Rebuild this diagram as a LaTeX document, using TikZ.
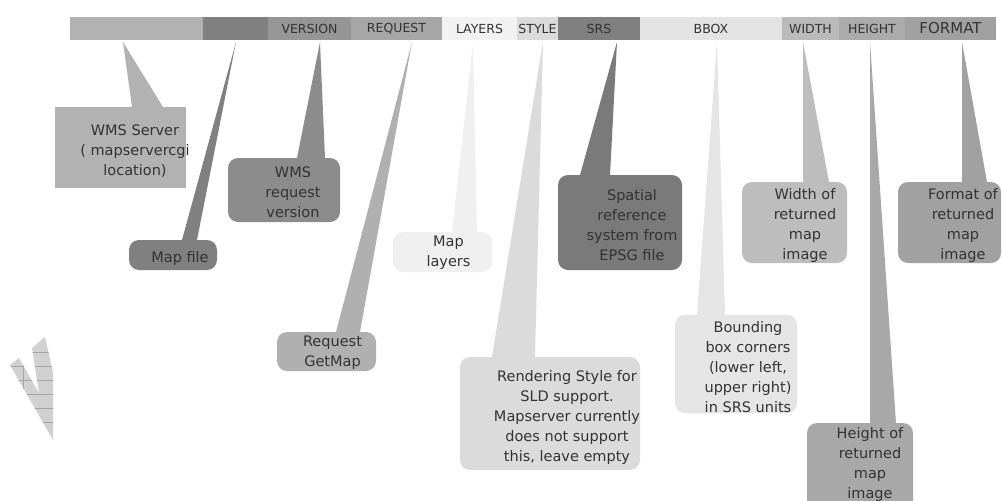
\documentclass[tikz,border=0pt]{standalone}
\usepackage{fontspec}
\setmainfont{DejaVu Sans}
\usetikzlibrary{positioning}

\begin{document}
\begin{tikzpicture}[x=1pt, y=-1pt, node distance=0pt,
		seg/.style={fill=#1, inner sep=0pt, outer xsep=0pt, outer ysep=2pt, minimum height=23pt, text=black!80, font=\fontsize{12.5}{14}\selectfont},
		note/.style={fill=#1, rounded corners=10pt, inner sep=0pt, outer sep=0pt},
		txt/.style={align=center, inner sep=0pt, text=black!80, font=\fontsize{14.5}{20}\selectfont}]
		\useasboundingbox (0,0) rectangle (1002,501);
	
		% the request line
		\node[seg=black!30, minimum width=133pt, anchor=west] (hostSeg) at (70,28.5) {};
		\node[seg=black!50, minimum width=65pt, right = of hostSeg] (mapSeg) {};
		\node[seg=black!41, minimum width=83pt, right = of mapSeg] (versionSeg) {VERSION};
		\node[seg=black!35, minimum width=91pt, right = of versionSeg] (requestSeg) {REQUEST};
		\node[seg=black!5, minimum width=75pt, right = of requestSeg] (layersSeg) {LAYERS};
		\node[seg=black!14, minimum width=41pt, right = of layersSeg] (styleSeg) {STYLE};
		\node[seg=black!50, minimum width=82pt, right = of styleSeg] (srsSeg) {SRS};
		\node[seg=black!11, minimum width=142pt, right = of srsSeg] (bboxSeg) {BBOX};
		\node[seg=black!27, minimum width=57pt, right = of bboxSeg] (widthSeg) {WIDTH};
		\node[seg=black!33, minimum width=66pt, right = of widthSeg] (heightSeg) {HEIGHT};
		\node[seg=black!37, minimum width=91pt, right = of heightSeg, font=\fontsize{15}{17}\selectfont] (formatSeg) {FORMAT};
		
		% the notes
		\node[note=black!30, rounded corners=0pt, minimum width=131pt, minimum height=81pt,
			label={[txt, xshift=14.5pt, yshift=-4pt]center:{WMS Server\\( mapservercgi\\location)}}] (hostNote) at (120.5,147.5) {};
		\node[note=black!50, minimum width=88pt, minimum height=30pt,
			label={[txt, xshift=7pt, yshift=-3pt]center:{Map file}}] (mapNote) at (173,255) {};
		\node[note=black!45, minimum width=112pt, minimum height=64pt,
			label={[txt, xshift=9pt, yshift=-2pt]center:{WMS\\request\\version}}] (versionNote) at (284,190) {};
		\node[note=black!31, minimum width=99pt, minimum height=39pt,
			label={[txt, xshift=6pt, yshift=-1pt]center:{Request\\GetMap}}] (requestNote) at (326.5,351.5) {};
		\node[note=black!6, minimum width=99pt, minimum height=40pt,
			label={[txt, xshift=6pt, yshift=-1pt]center:{Map\\layers}}] (layersNote) at (442.5,252) {};
		\node[note=black!14, minimum width=180pt, minimum height=113pt,
			label={[txt, xshift=17pt, yshift=-3.5pt]center:{Rendering Style for\\SLD support.\\Mapserver currently\\does not support\\this, leave empty}}] (styleNote) at (550,413.5) {};
		\node[note=black!52, minimum width=124pt, minimum height=95pt,
			label={[txt, xshift=12pt, yshift=-3pt]center:{Spatial\\reference\\system from\\EPSG file}}] (srsNote) at (620,222.5) {};
		\node[note=black!10, minimum width=122pt, minimum height=98pt,
			label={[txt, xshift=12pt, yshift=-3pt]center:{Bounding\\box corners\\(lower left,\\upper right)\\in SRS units}}] (bboxNote) at (736,364) {};
		\node[note=black!26, minimum width=105pt, minimum height=81pt,
			label={[txt, xshift=10.5pt, yshift=-3pt]center:{Width of\\returned\\map\\image}}] (widthNote) at (794.5,222.5) {};
		\node[note=black!34, minimum width=106pt, minimum height=97pt,
			label={[txt, xshift=10pt, yshift=7pt]center:{Height of\\returned\\map\\image}}] (heightNote) at (860,471.5) {};
		\node[note=black!37, minimum width=103pt, minimum height=81pt,
			label={[txt, xshift=13.5pt, yshift=-3pt]center:{Format of\\returned\\map\\image}}] (formatNote) at (949.5,222.5) {};
		
		% the pointers
		\fill[black!30] (123,0 |- hostSeg.south) -- (132,0 |- hostNote.north) -- (163,0 |- hostNote.north) -- cycle;
		\fill[black!50] (236,0 |- mapSeg.south) -- (182,0 |- mapNote.north) -- (197,0 |- mapNote.north) -- cycle;
		\fill[black!45] (320,0 |- versionSeg.south) -- (297,0 |- versionNote.north) -- (325,0 |- versionNote.north) -- cycle;
		\fill[black!31] (412,0 |- requestSeg.south) -- (336,0 |- requestNote.north) -- (360,0 |- requestNote.north) -- cycle;
		\fill[black!6] (473,0 |- layersSeg.south) -- (452,0 |- layersNote.north) -- (477,0 |- layersNote.north) -- cycle;
		\fill[black!14] (543,0 |- styleSeg.south) -- (492,0 |- styleNote.north) -- (535,0 |- styleNote.north) -- cycle;
		\fill[black!52] (617,0 |- srsSeg.south) -- (580,0 |- srsNote.north) -- (610,0 |- srsNote.north) -- cycle;
		\fill[black!10] (717,0 |- bboxSeg.south) -- (697,0 |- bboxNote.north) -- (725,0 |- bboxNote.north) -- cycle;
		\fill[black!26] (803,0 |- widthSeg.south) -- (803,0 |- widthNote.north) -- (829,0 |- widthNote.north) -- cycle;
		\fill[black!34] (870,0 |- heightSeg.south) -- (870,0 |- heightNote.north) -- (896,0 |- heightNote.north) -- cycle;
		\fill[black!37] (962,0 |- formatSeg.south) -- (962,0 |- formatNote.north) -- (987,0 |- formatNote.north) -- cycle;
		
		% the hatched mark on the left
		\begin{scope}
			\clip (10,365) -- (19,358) -- (39,393) -- (32,348) -- (45,337) -- (53,372) -- (53,440) -- cycle;
			\fill[black!18] (0,330) rectangle (60,445);
			\foreach \y in {352,366,380,394,408,422}
				\draw[black!35, very thin] (0,\y) -- (60,\y);
			\draw[black!35, very thin] (23,330) -- (23,445);
		\end{scope}
		
	\end{tikzpicture}
\end{document}
